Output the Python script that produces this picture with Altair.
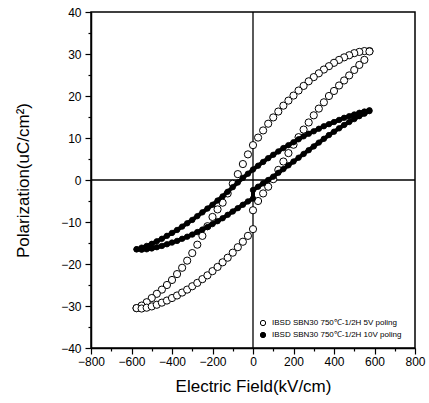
import altair as alt
import pandas as pd

# ---- data ----
S5 = "IBSD SBN30 750℃-1/2H 5V poling"
S10 = "IBSD SBN30 750℃-1/2H 10V poling"

E_DOWN = [575, 550, 525, 500, 475, 450, 425, 400, 375, 350, 325, 300, 275, 250,
          225, 200, 175, 150, 125, 100, 75, 50, 25, 0, -25, -50, -75, -100, -125,
          -150, -175, -200, -225, -250, -275, -300, -325, -350, -375, -400, -425,
          -450, -475, -500, -525, -550, -575]
E_UP = [-575, -550, -525, -500, -475, -450, -425, -400, -375, -350, -325, -300,
        -275, -250, -225, -200, -175, -150, -125, -100, -75, -50, -25, 0, 0, 25,
        50, 75, 100, 125, 150, 175, 200, 225, 250, 275, 300, 325, 350, 375, 400,
        425, 450, 475, 500, 525, 550, 575]

P5_DOWN = [30.7, 30.7, 30.5, 30.2, 29.7, 29.2, 28.6, 27.9, 27.1, 26.3, 25.4, 24.5,
           23.5, 22.4, 21.3, 20.1, 18.9, 17.7, 16.3, 14.9, 13.4, 11.8, 10.1, 8.3,
           6.1, 3.8, 1.4, -0.9, -3.2, -5.4, -7.0, -8.8, -11.0, -13.3, -15.4, -17.4,
           -19.2, -20.9, -22.4, -23.8, -25.0, -26.1, -27.1, -28.1, -29.1, -29.9, -30.5]
P5_UP = [-30.5, -30.6, -30.4, -30.1, -29.7, -29.2, -28.7, -28.1, -27.5, -26.8,
         -26.1, -25.3, -24.5, -23.6, -22.7, -21.7, -20.7, -19.6, -18.5, -17.3,
         -16.0, -14.7, -13.3, -11.7, -7.2, -5.0, -3.2, -1.6, 0.2, 2.4, 4.4, 6.4,
         8.4, 10.2, 12.0, 13.7, 15.4, 17.0, 18.5, 20.0, 21.2, 22.5, 23.7, 24.9,
         26.2, 27.4, 28.6, 30.6]

P10_DOWN = [16.6, 16.3, 16.0, 15.6, 15.2, 14.8, 14.3, 13.8, 13.3, 12.8, 12.2, 11.6,
            11.0, 10.4, 9.7, 9.0, 8.3, 7.6, 6.8, 6.0, 5.2, 4.3, 3.4, 2.5, 1.5, 0.5,
            -0.6, -1.7, -2.8, -3.9, -4.9, -5.9, -6.8, -7.7, -8.6, -9.5, -10.3,
            -11.1, -11.9, -12.6, -13.3, -14.0, -14.6, -15.2, -15.7, -16.1, -16.5]
P10_UP = [-16.5, -16.6, -16.5, -16.3, -16.0, -15.7, -15.3, -14.9, -14.5, -14.0,
          -13.5, -13.0, -12.4, -11.8, -11.2, -10.5, -9.8, -9.1, -8.3, -7.5, -6.7,
          -5.9, -5.1, -4.4, -2.4, -1.6, -0.8, 0.0, 0.8, 1.7, 2.6, 3.5, 4.4, 5.3,
          6.2, 7.1, 8.0, 8.9, 9.8, 10.7, 11.5, 12.3, 13.1, 13.8, 14.5, 15.2, 15.8,
          16.4]

X_TICKS = [-800, -700, -600, -500, -400, -300, -200, -100, 0, 100, 200, 300, 400,
           500, 600, 700, 800]
Y_TICKS = [-40, -35, -30, -25, -20, -15, -10, -5, 0, 5, 10, 15, 20, 25, 30, 35, 40]

rows = []
for e, p in zip(E_DOWN, P5_DOWN):
    rows.append({"E": e, "P": p, "series": S5, "branch": "5-down"})
for e, p in zip(E_UP, P5_UP):
    rows.append({"E": e, "P": p, "series": S5, "branch": "5-up"})
for e, p in zip(E_DOWN, P10_DOWN):
    rows.append({"E": e, "P": p, "series": S10, "branch": "10-down"})
for e, p in zip(E_UP, P10_UP):
    rows.append({"E": e, "P": p, "series": S10, "branch": "10-up"})
df = pd.DataFrame(rows)
df["order"] = range(len(df))

FONT = "Liberation Sans"

xscale = alt.Scale(domain=[-800, 800], nice=False, zero=False)
yscale = alt.Scale(domain=[-40, 40], nice=False, zero=False)

xaxis = alt.Axis(
    values=X_TICKS, title="Electric Field(kV/cm)", grid=False,
    labelExpr="datum.value % 200 == 0 ? datum.label : ''",
    tickSize={"condition": {"test": "datum.value % 200 == 0", "value": 6}, "value": 3},
    labelFontSize=12, titleFontSize=17, labelFont=FONT, titleFont=FONT,
    titleFontWeight="normal", labelColor="black", titleColor="black",
    domainColor="black", tickColor="black", domainWidth=1.5, tickWidth=1.2,
    labelPadding=2, titlePadding=11, labelFlush=False, labelOverlap=False,
)
yaxis = alt.Axis(
    values=Y_TICKS, title="Polarization(uC/cm²)", grid=False,
    labelExpr="datum.value % 10 == 0 ? datum.label : ''",
    tickSize={"condition": {"test": "datum.value % 10 == 0", "value": 6}, "value": 3},
    labelFontSize=12, titleFontSize=17, labelFont=FONT, titleFont=FONT,
    titleFontWeight="normal", labelColor="black", titleColor="black",
    domainColor="black", tickColor="black", domainWidth=1.5, tickWidth=1.2,
    labelPadding=4, titlePadding=28, labelFlush=False, labelOverlap=False,
)

zero_x = alt.Chart(pd.DataFrame({"v": [0]})).mark_rule(color="black", strokeWidth=1.3).encode(
    x=alt.X("v:Q", scale=xscale, axis=xaxis)
)
zero_y = alt.Chart(pd.DataFrame({"v": [0]})).mark_rule(color="black", strokeWidth=1.3).encode(
    y=alt.Y("v:Q", scale=yscale, axis=yaxis)
)

fill_scale = alt.Scale(domain=[S5, S10], range=["white", "black"])

base = alt.Chart(df)
open_pts = base.transform_filter(alt.datum.series == S5).mark_point(
    shape="circle", size=52, stroke="black", strokeWidth=1, fill="white",
    fillOpacity=1, opacity=1
).encode(
    x=alt.X("E:Q", scale=xscale, axis=xaxis),
    y=alt.Y("P:Q", scale=yscale, axis=yaxis),
    fill=alt.Fill("series:N", scale=fill_scale,
                  legend=alt.Legend(
                      title=None, orient="none", legendX=168, legendY=307,
                      labelFontSize=8, labelFont=FONT, labelColor="black",
                      symbolType="circle", symbolSize=28, symbolStrokeColor="black",
                      symbolStrokeWidth=1, symbolFillColor="white",
                      padding=0, rowPadding=2, labelOffset=5, labelLimit=300,
                  )),
    order="order:Q",
)
filled_line = base.transform_filter(alt.datum.series == S10).mark_line(
    color="black", strokeWidth=4, strokeCap="round", strokeJoin="round"
).encode(
    x=alt.X("E:Q", scale=xscale, axis=xaxis),
    y=alt.Y("P:Q", scale=yscale, axis=yaxis),
    detail="branch:N",
    order="order:Q",
)
filled_pts = base.transform_filter(alt.datum.series == S10).mark_point(
    shape="circle", size=30, stroke="black", strokeWidth=0.8, fill="black",
    fillOpacity=1, opacity=1
).encode(
    x=alt.X("E:Q", scale=xscale, axis=xaxis),
    y=alt.Y("P:Q", scale=yscale, axis=yaxis),
    fill=alt.Fill("series:N", scale=fill_scale),
    order="order:Q",
)

chart = alt.layer(zero_x, zero_y, open_pts, filled_line, filled_pts).properties(
    width=324, height=336,
    padding={"left": 91, "top": 12, "right": 14, "bottom": 55},
    autosize=alt.AutoSizeParams(type="none"),
    background="white",
).configure_view(stroke="black", strokeWidth=1.5)

chart.save("out.html", embed_options={"renderer": "svg", "actions": False})
